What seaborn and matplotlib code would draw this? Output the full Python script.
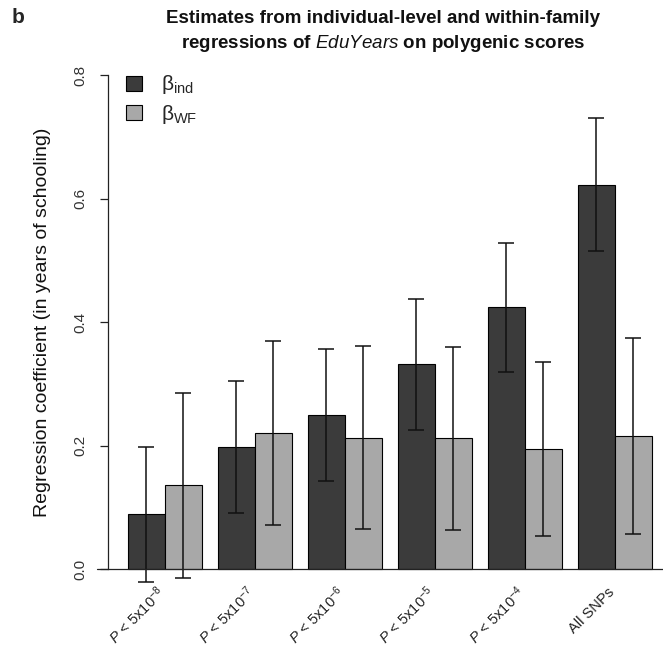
import matplotlib
matplotlib.use("Agg")
import matplotlib.pyplot as plt
import matplotlib.transforms as mtransforms
import seaborn as sns
import pandas as pd
import numpy as np
from matplotlib.patches import Patch

# ---- data ----
thresholds = [r"$\mathit{P}$ < 5x10$^{-8}$", r"$\mathit{P}$ < 5x10$^{-7}$",
              r"$\mathit{P}$ < 5x10$^{-6}$", r"$\mathit{P}$ < 5x10$^{-5}$",
              r"$\mathit{P}$ < 5x10$^{-4}$", "All SNPs"]
series = ["ind", "WF"]
beta_ind = [0.089, 0.198, 0.250, 0.332, 0.424, 0.623]
ind_lo = [-0.021, 0.090, 0.143, 0.226, 0.319, 0.516]
ind_hi = [0.197, 0.305, 0.357, 0.437, 0.529, 0.731]
beta_wf = [0.136, 0.221, 0.213, 0.212, 0.195, 0.215]
wf_lo = [-0.014, 0.071, 0.065, 0.064, 0.053, 0.057]
wf_hi = [0.286, 0.370, 0.361, 0.360, 0.336, 0.374]
legend_labels = [r"β$_{\mathrm{ind}}$", r"β$_{\mathrm{WF}}$"]
yticks = [0.0, 0.2, 0.4, 0.6, 0.8]

df = pd.DataFrame({
    "threshold": thresholds * 2,
    "beta": beta_ind + beta_wf,
    "series": [series[0]] * 6 + [series[1]] * 6,
})

sns.set_style("white")
plt.rcParams["font.family"] = ["Liberation Sans", "DejaVu Sans"]
plt.rcParams["mathtext.fontset"] = "custom"
plt.rcParams["mathtext.rm"] = "Liberation Sans"
plt.rcParams["mathtext.it"] = "Liberation Sans:italic"
plt.rcParams["mathtext.bf"] = "Liberation Sans:bold"

dark = "#3b3b3b"
light = "#a8a8a8"

fig = plt.figure(figsize=(6.63, 6.48), dpi=100)
ax = fig.add_axes([0.1629, 0.0838, 0.8371, 0.838])

sns.barplot(data=df, x="threshold", y="beta", hue="series", order=thresholds,
            hue_order=series, palette=[dark, light], width=0.82,
            edgecolor="black", linewidth=0.8, ax=ax, legend=False,
            errorbar=None, saturation=1)

lows = [ind_lo, wf_lo]
highs = [ind_hi, wf_hi]
for cont, lo, hi in zip(ax.containers, lows, highs):
    xs = [p.get_x() + p.get_width() / 2 for p in cont.patches]
    ys = np.array([p.get_height() for p in cont.patches])
    lo = np.array(lo); hi = np.array(hi)
    eb = ax.errorbar(xs, ys, yerr=[ys - lo, hi - ys], fmt="none",
                     ecolor="#111111", elinewidth=1.1, capsize=5.5,
                     capthick=1.1, zorder=5)
    for art in list(eb.lines[1]) + list(eb.lines[2]):
        art.set_clip_on(False)

ax.set_xlim(-0.632, 5.534)
ax.set_ylim(-0.04, 0.84)

for s in ["top", "right", "bottom"]:
    ax.spines[s].set_visible(False)
ax.spines["left"].set_bounds(0, 0.8)
ax.spines["left"].set_color("#222222")
ax.spines["left"].set_linewidth(0.9)
ax.axhline(0, xmin=-0.02, xmax=1, color="#222222", lw=0.9, clip_on=False, zorder=6)

ax.set_yticks(yticks)
ax.set_yticklabels([f"{v:.1f}" for v in yticks], rotation=90, va="center",
                   fontsize=11, color="#333333")
ax.tick_params(axis="y", length=6, width=0.9, color="#222222", pad=9, left=True)
ax.tick_params(axis="x", length=0, pad=0)
ax.set_xticks(range(len(thresholds)))
ax.set_xticklabels(thresholds, rotation=45, ha="right", va="center",
                   rotation_mode="anchor", fontsize=10.5, color="#222222")
offset = mtransforms.ScaledTranslation(-3 / 100, 4 / 100, fig.dpi_scale_trans)
for lab in ax.get_xticklabels():
    lab.set_transform(lab.get_transform() + offset)
ax.set_xlabel("")
ax.set_ylabel("Regression coefficient (in years of schooling)", fontsize=14,
              color="#111111")
ax.yaxis.set_label_coords(-0.102, 0.5)

handles = [Patch(facecolor=dark, edgecolor="black", linewidth=0.8),
           Patch(facecolor=light, edgecolor="black", linewidth=0.8)]
ax.legend(handles, legend_labels, loc="upper left", bbox_to_anchor=(0.033, 0.958),
          frameon=False, fontsize=15, handlelength=0.77, handleheight=0.72,
          handletextpad=0.9, labelspacing=0.3, borderpad=0, borderaxespad=0)

fig.text(0.578, 0.985,
         "Estimates from individual-level and within-family\n"
         r"regressions of $\mathit{EduYears}$ on polygenic scores",
         ha="center", va="top", fontsize=13.5, fontweight="bold",
         linespacing=1.45, color="#111111")
fig.text(0.018, 0.988, "b", ha="left", va="top", fontsize=15, fontweight="bold")

fig.savefig("out.png", dpi=100)
